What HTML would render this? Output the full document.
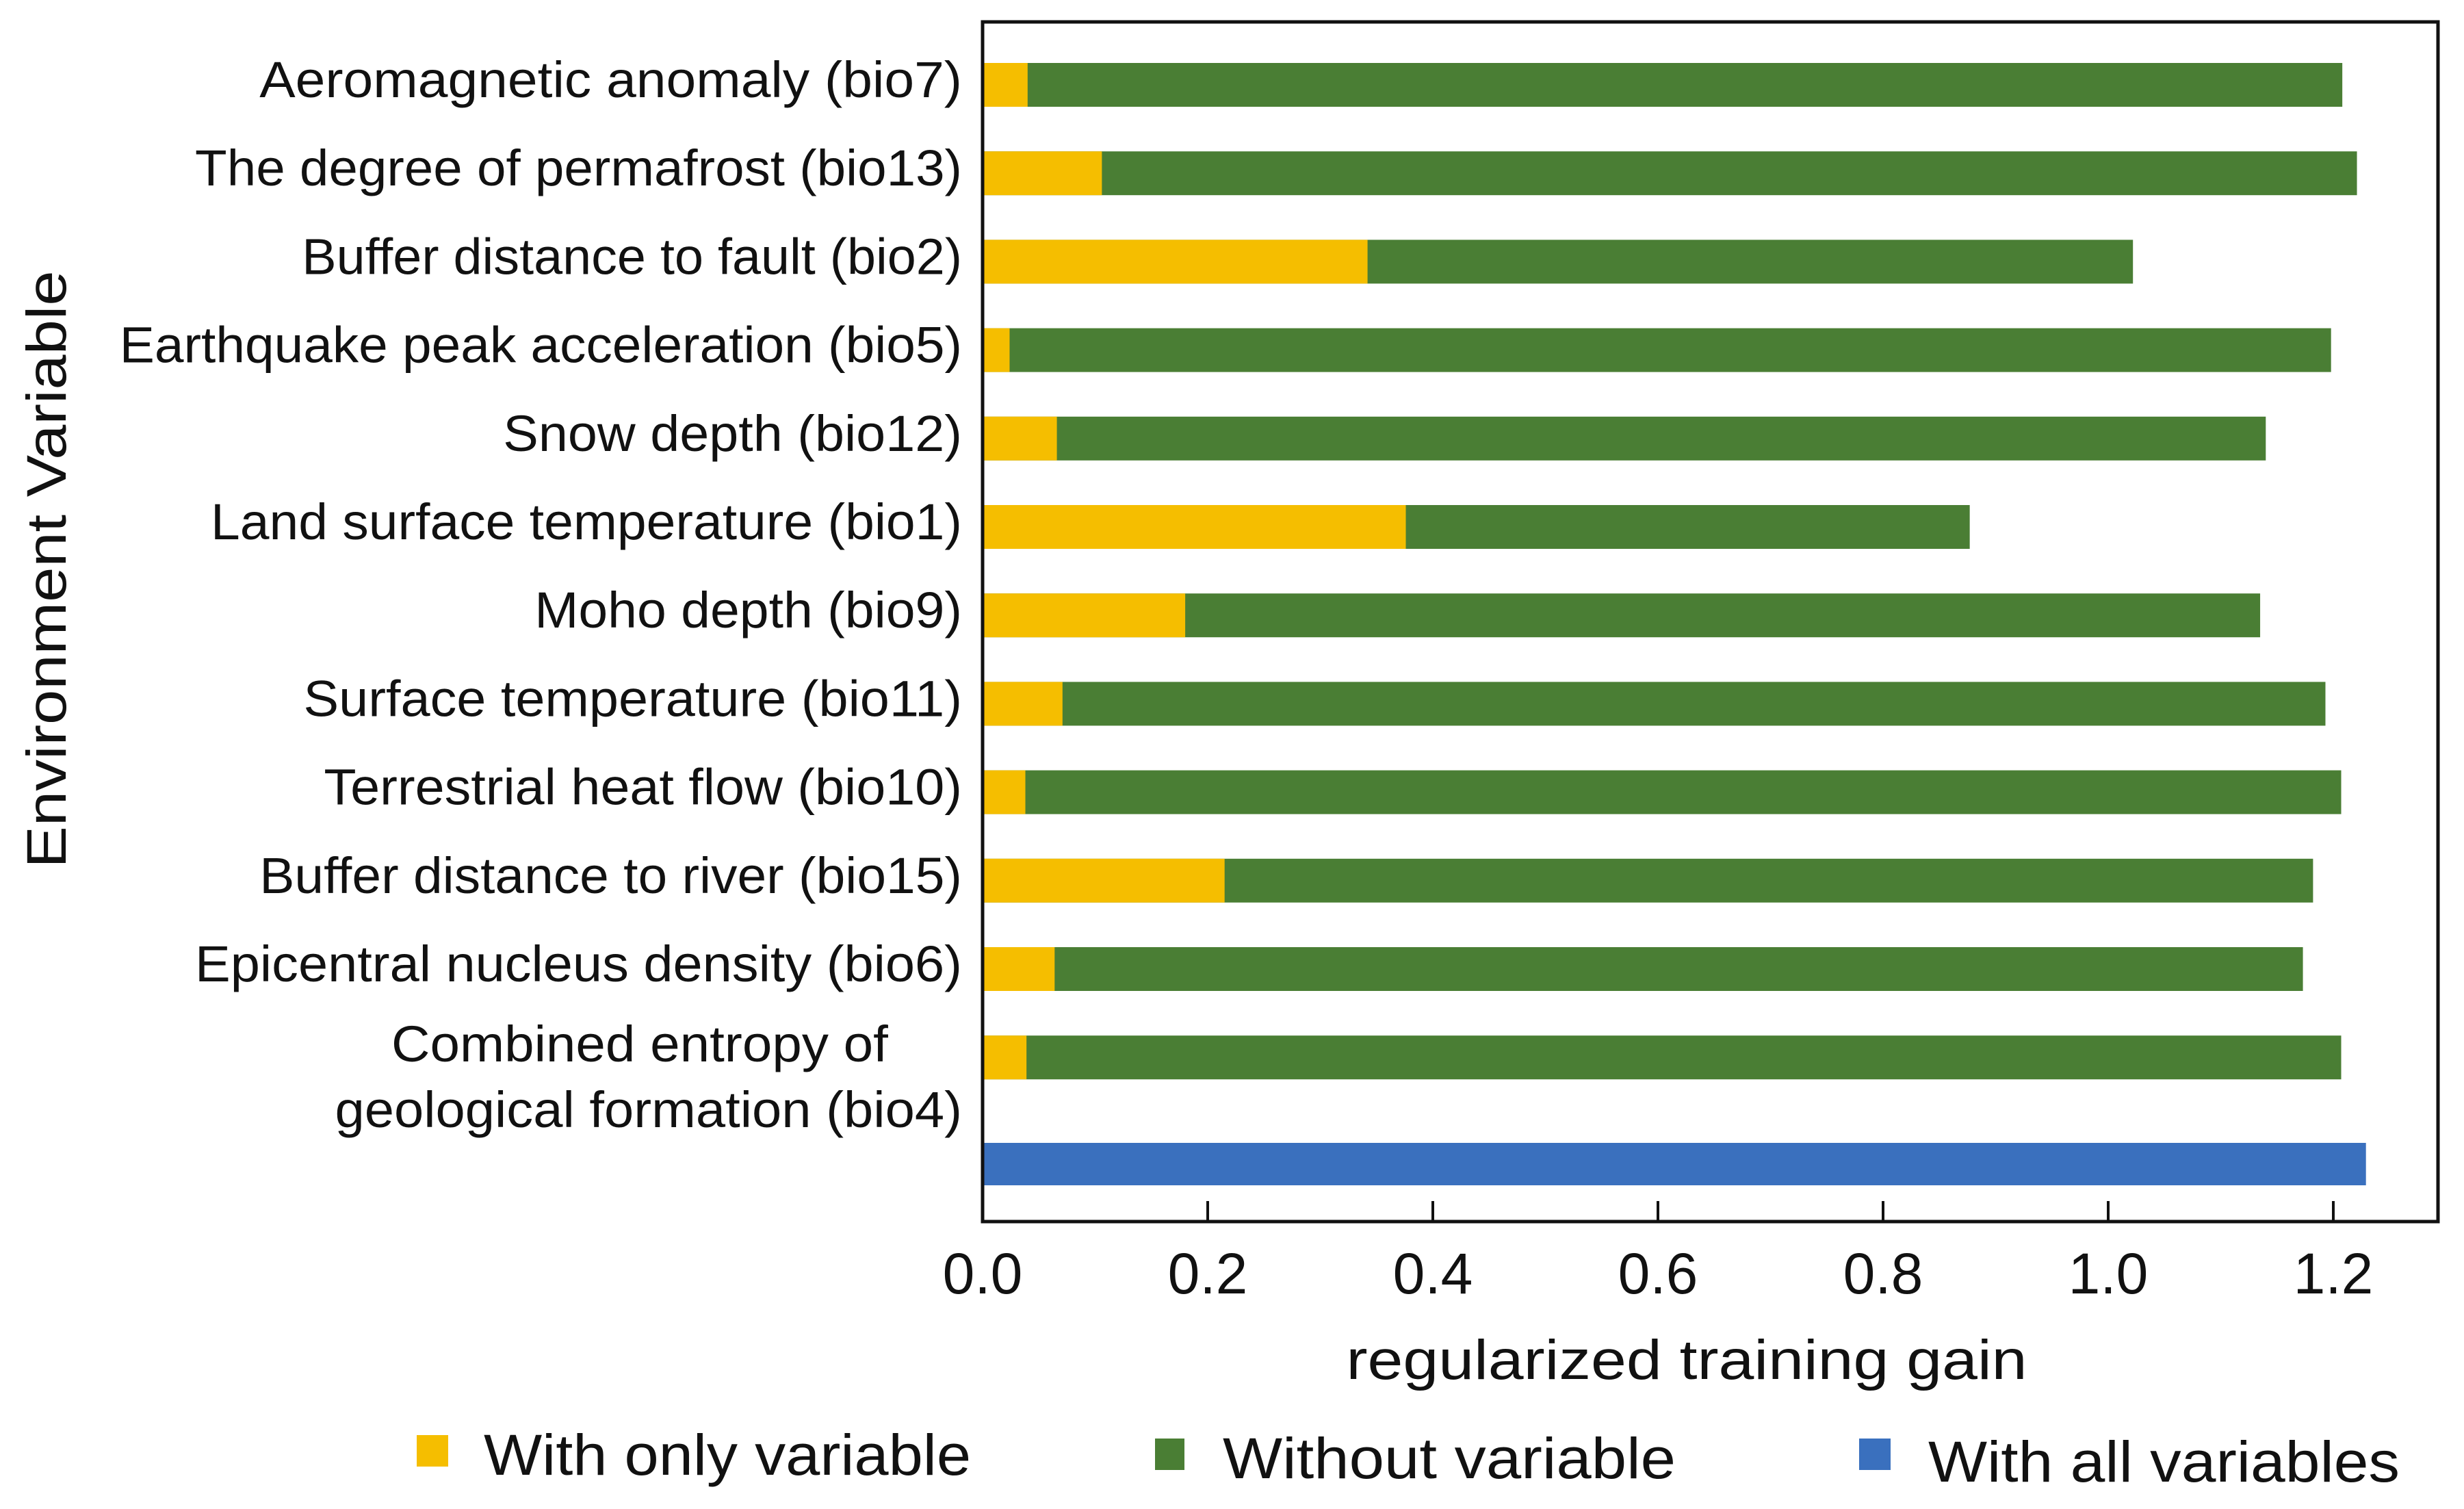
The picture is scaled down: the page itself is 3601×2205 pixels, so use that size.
<!DOCTYPE html>
<html><head><meta charset="utf-8"><style>
html,body{margin:0;padding:0;background:#fff;}
svg{display:block;font-family:"Liberation Sans",sans-serif;}
</style></head><body>
<svg id="chart" width="3601" height="2205" viewBox="0 0 3601 2205" xmlns="http://www.w3.org/2000/svg">
<rect x="0" y="0" width="3601" height="2205" fill="#fff"/>
<g id="bars"></g>
<g id="labels"></g>
<g id="ticks"></g>
<rect x="1436" y="32" width="2127" height="1753" fill="none" stroke="#111" stroke-width="5"/>
<text x="2465" y="2015" font-size="82" text-anchor="middle" textLength="995" lengthAdjust="spacingAndGlyphs" fill="#111">regularized training gain</text>
<text transform="translate(96,832) rotate(-90)" font-size="82" text-anchor="middle" textLength="873" lengthAdjust="spacingAndGlyphs" fill="#111">Environment Variable</text>
<g>
<rect x="609" y="2097" width="46" height="46" fill="#F5BE00"/>
<text x="707" y="2155" font-size="84" textLength="712" lengthAdjust="spacingAndGlyphs" fill="#111">With only variable</text>
<rect x="1688" y="2102" width="43" height="46" fill="#4A7E34"/>
<text x="1787" y="2160" font-size="84" textLength="662" lengthAdjust="spacingAndGlyphs" fill="#111">Without variable</text>
<rect x="2717" y="2102" width="46" height="46" fill="#3A70BE"/>
<text x="2818" y="2165" font-size="84" textLength="689" lengthAdjust="spacingAndGlyphs" fill="#111">With all variables</text>
</g>
</svg>
<script>
const categories = ["Aeromagnetic anomaly (bio7)","The degree of permafrost (bio13)","Buffer distance to fault (bio2)","Earthquake peak acceleration (bio5)","Snow depth (bio12)","Land surface temperature (bio1)","Moho depth (bio9)","Surface temperature (bio11)","Terrestrial heat flow (bio10)","Buffer distance to river (bio15)","Epicentral nucleus density (bio6)","Combined entropy of geological formation (bio4)"];
const withOnly = [0.040,0.106,0.342,0.024,0.066,0.376,0.180,0.071,0.038,0.215,0.064,0.039];
const without = [1.208,1.221,1.022,1.198,1.140,0.877,1.135,1.193,1.207,1.182,1.173,1.207];
const withAll = 1.229;
const tickValues = [0,0.2,0.4,0.6,0.8,1.0,1.2];
const tickLabels = ["0.0","0.2","0.4","0.6","0.8","1.0","1.2"];

const NS="http://www.w3.org/2000/svg";
const X0=1436, XPU=1645;
const x = v => X0 + v*XPU;
const ROW0=124, ROWSTEP=129.2, BH=64;
const y = i => ROW0 + i*ROWSTEP;
function mk(tag, attrs, parent){const e=document.createElementNS(NS,tag);for(const k in attrs)e.setAttribute(k,attrs[k]);parent.appendChild(e);return e;}
const bars=document.getElementById('bars'), labels=document.getElementById('labels'), ticks=document.getElementById('ticks');
const labelWidths=[447,488,420,536,292,478,272,419,406,447,488];
categories.forEach((c,i)=>{
  const cy=y(i);
  const g=mk('rect',{x:x(0),y:cy-BH/2,width:x(without[i])-x(0),height:BH,fill:'#4A7E34'},bars);
  
  
  const o=mk('rect',{x:x(0),y:cy-BH/2,width:x(withOnly[i])-x(0),height:BH,fill:'#F5BE00'},bars);
  
  
  if(i<11){
    const t=mk('text',{x:1406,y:cy+18,'font-size':74,'text-anchor':'end',textLength:labelWidths[i]*2.297,lengthAdjust:'spacingAndGlyphs',fill:'#111'},labels);
    t.textContent=c;
    
    
  } else {
    const t1=mk('text',{x:572,y:cy+6,'font-size':74,textLength:316*2.297,lengthAdjust:'spacingAndGlyphs',fill:'#111'},labels);
    t1.textContent="Combined entropy of";
    
    
    const t2=mk('text',{x:1406,y:cy+102,'font-size':74,'text-anchor':'end',textLength:399*2.297,lengthAdjust:'spacingAndGlyphs',fill:'#111'},labels);
    t2.textContent="geological formation (bio4)";
    
    
  }
});
const b=mk('rect',{x:x(0),y:1670,width:x(withAll)-x(0),height:62,fill:'#3A70BE'},bars);


tickValues.forEach((v,i)=>{
  const l=mk('line',{x1:x(v),x2:x(v),y1:1785,y2:1755,stroke:'#111','stroke-width':4},ticks);
  
  
  const t=mk('text',{x:x(v),y:1890,'font-size':84,'text-anchor':'middle',fill:'#111'},ticks);
  t.textContent=tickLabels[i];
  
  
});
</script>
</body></html>
